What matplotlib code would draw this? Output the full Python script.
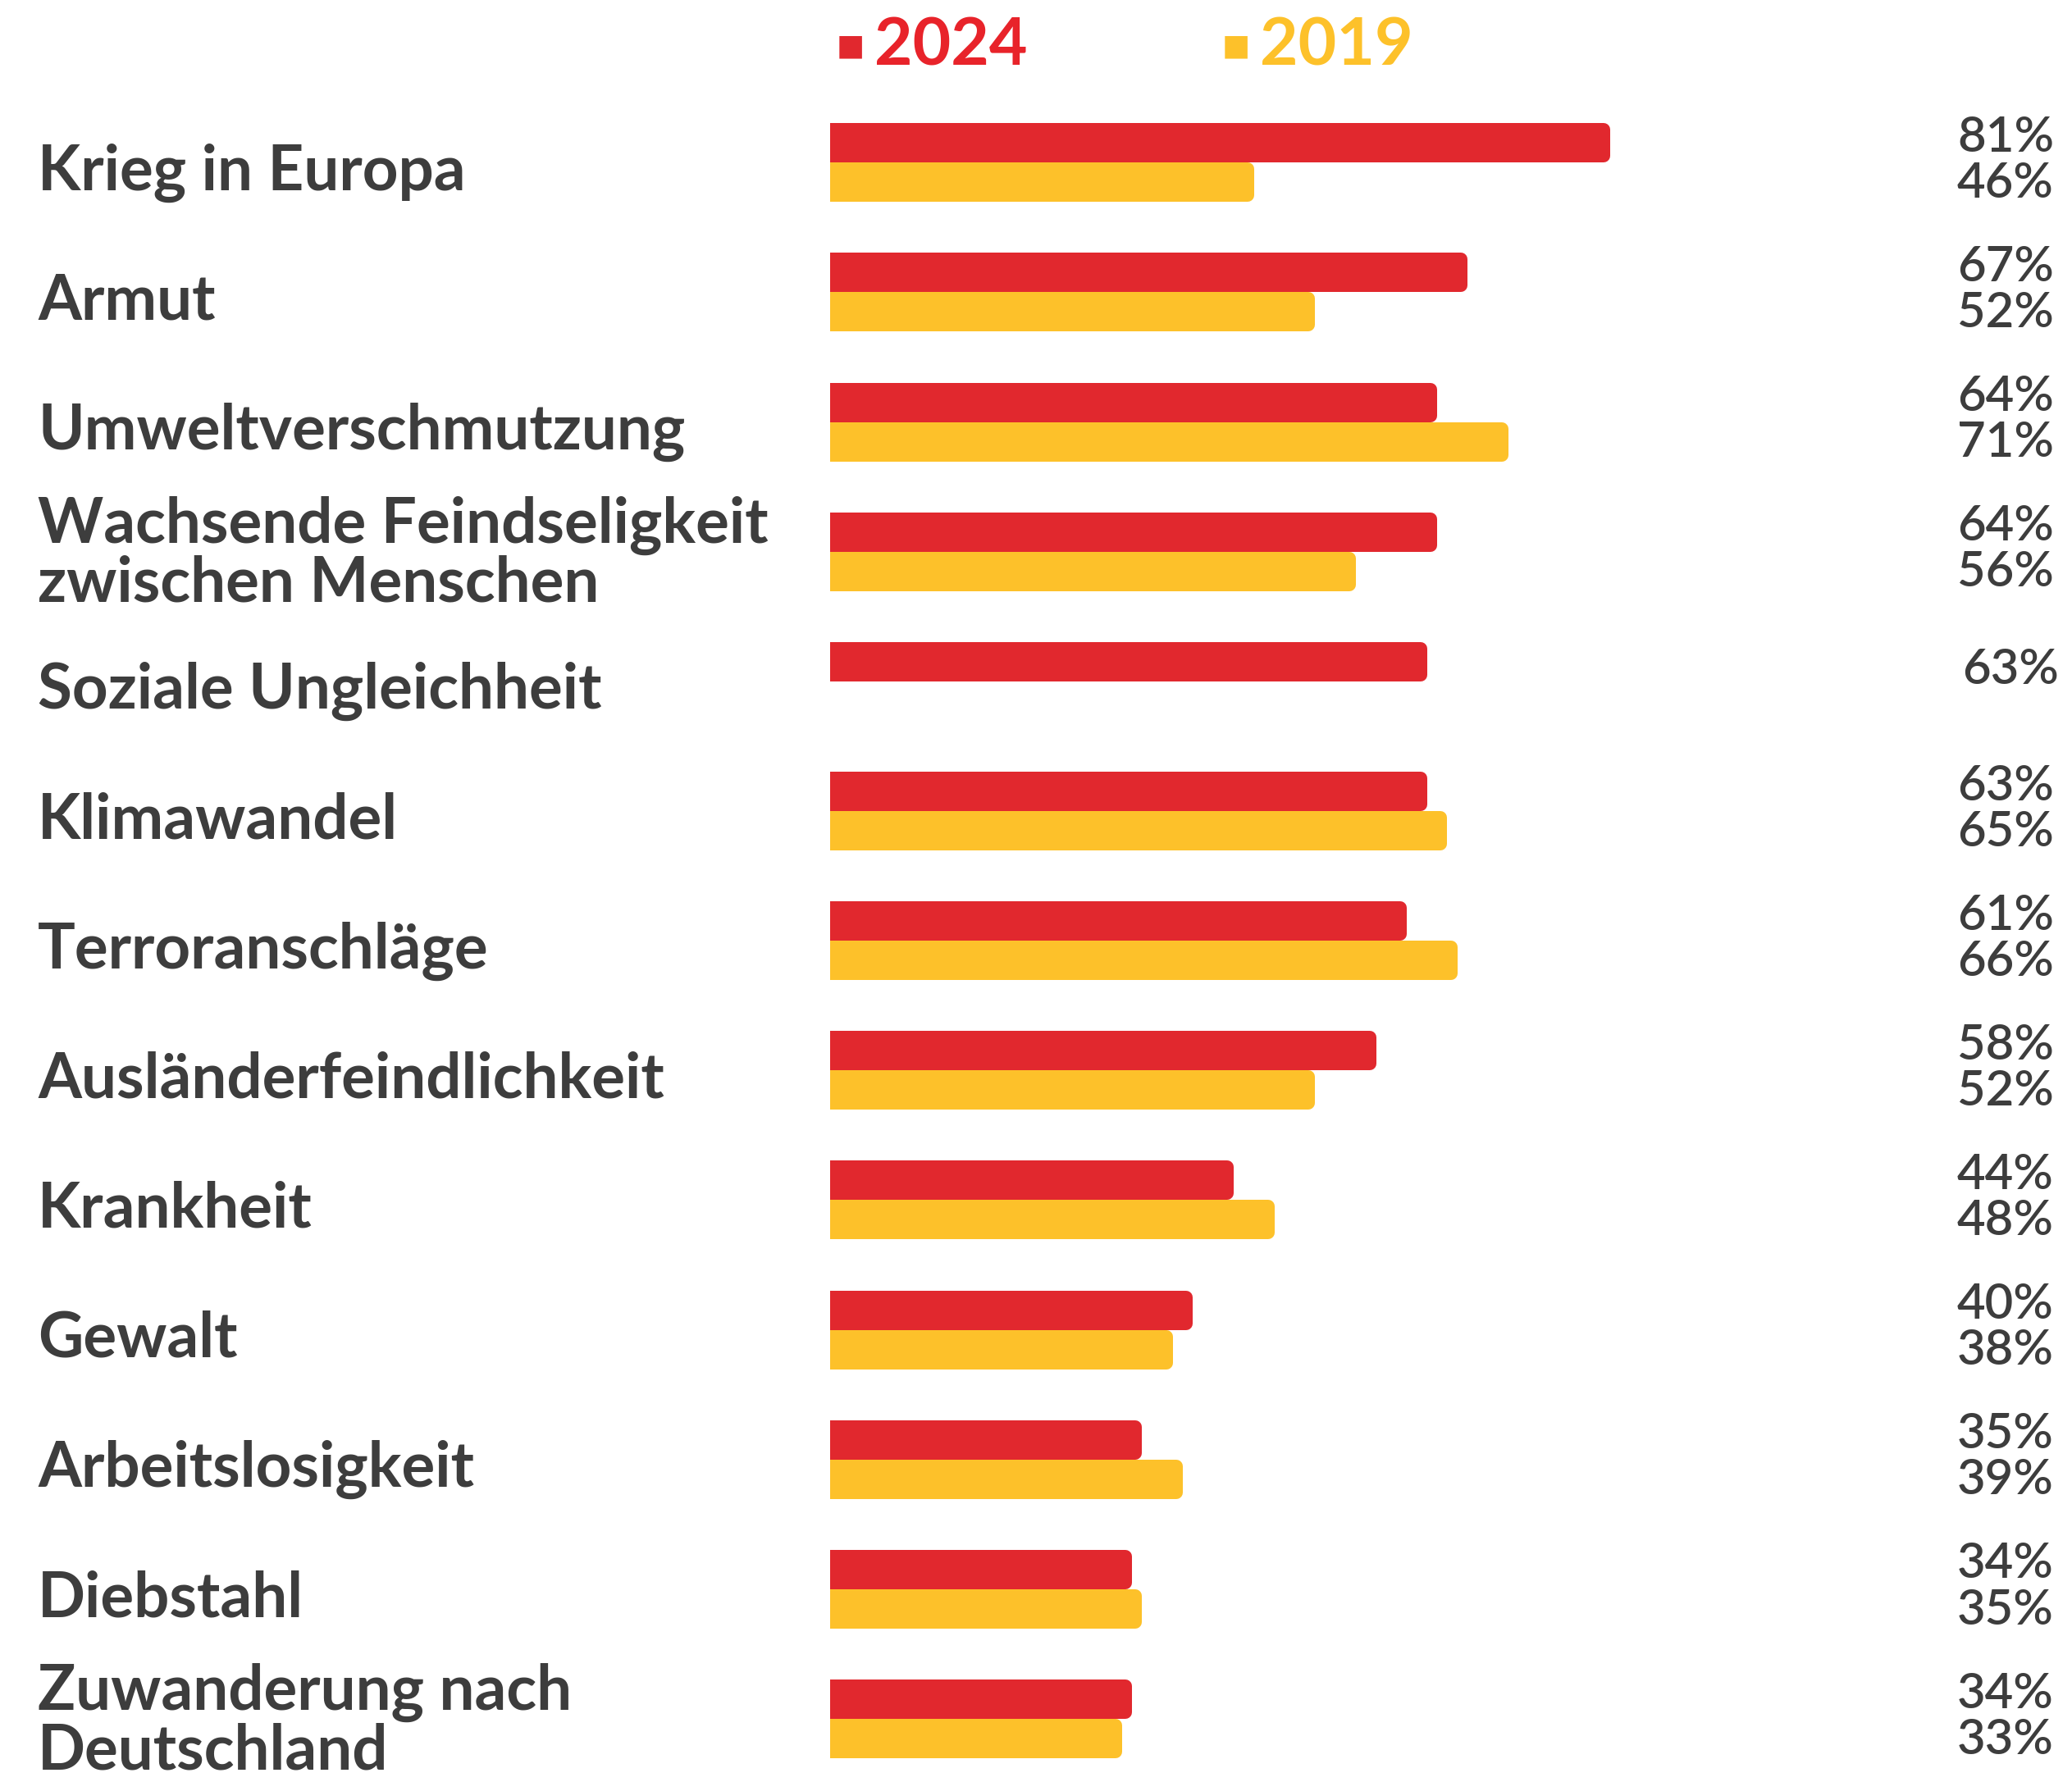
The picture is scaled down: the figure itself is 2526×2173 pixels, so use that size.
import matplotlib
matplotlib.use("Agg")
import numpy as np
from matplotlib import pyplot as plt

# Daten
kategorien = [
    "Krieg in Europa",
    "Armut",
    "Umweltverschmutzung",
    "Wachsende Feindseligkeit\nzwischen Menschen",
    "Soziale Ungleichheit",
    "Klimawandel",
    "Terroranschläge",
    "Ausländerfeindlichkeit",
    "Krankheit",
    "Gewalt",
    "Arbeitslosigkeit",
    "Diebstahl",
    "Zuwanderung nach\nDeutschland",
]
werte_2024 = [81, 67, 64, 64, 63, 63, 61, 58, 44, 40, 35, 34, 34]
werte_2019 = [46, 52, 71, 56, None, 65, 66, 52, 48, 38, 39, 35, 33]

ROT = "#e1282e"
GELB = "#fdc12a"
TEXT = "#3d3d3d"

W, H = 2526, 2173
fig = plt.figure(figsize=(W / 100, H / 100), dpi=100)
fig.patch.set_facecolor("white")

# Achse rechts, volle Hoehe
links_px = 1012
ax = fig.add_axes([links_px / W, 0, 1 - links_px / W, 1])
px_pro_prozent = 12.40
x0 = 4.96
ax.set_xlim(x0, x0 + (W - links_px) / px_pro_prozent)

pitch = 158.15
oben_px = 198.2
ax.set_ylim(12 + (H - (oben_px + 12 * pitch)) / pitch, -oben_px / pitch)
ax.axis("off")

y = np.arange(len(kategorien))
h_vis = 48 / pitch            # sichtbare Balkenhoehe
rand = 16                     # px, fuer runde Ecken
h_face = h_vis - rand / pitch
lw = rand * 72 / 100

v19 = np.array([np.nan if v is None else v for v in werte_2019], dtype=float)

ax.barh(y - h_vis / 2, werte_2024, height=h_face, color=ROT,
        edgecolor=ROT, linewidth=lw, joinstyle="round")
ax.barh(y + h_vis / 2, np.nan_to_num(v19), height=h_face, color=GELB,
        edgecolor=GELB, linewidth=lw, joinstyle="round")

trans = ax.get_yaxis_transform()
lab_x = (46 - links_px) / (W - links_px)
pct_x = (2386 - links_px) / (W - links_px)

for i, name in enumerate(kategorien):
    zeilen = name.count("\n") + 1
    if zeilen == 1:
        ax.text(lab_x, i + 0.21, name, transform=trans, ha="left",
                va="baseline", fontsize=55, fontweight="bold",
                family="Lato", color=TEXT, clip_on=False)
    else:
        ax.text(lab_x, i + 0.02, name, transform=trans, ha="left",
                va="center", fontsize=55, fontweight="bold",
                family="Lato", color=TEXT, clip_on=False,
                linespacing=1.0)

    if np.isnan(v19[i]):
        ax.text(pct_x + 0.004, i - h_vis / 2 + 0.17, f"{werte_2024[i]}%",
                transform=trans, ha="left", va="baseline", fontsize=43,
                family="Lato", fontweight="semibold", color=TEXT, clip_on=False)
    else:
        ax.text(pct_x, i - 0.085, f"{werte_2024[i]}%", transform=trans,
                ha="left", va="baseline", fontsize=43, family="Lato",
                fontweight="semibold", color=TEXT, clip_on=False)
        ax.text(pct_x, i + 0.27, f"{int(v19[i])}%", transform=trans,
                ha="left", va="baseline", fontsize=43, family="Lato",
                fontweight="semibold", color=TEXT, clip_on=False)

# Legende oben
ly = 1 - 56 / H
fig.text(1020 / W, ly, "■", fontsize=26, color=ROT, va="center", ha="left",
         family="DejaVu Sans")
fig.text(1066 / W, ly, "2024", fontsize=58, color="#e8232a", va="center",
         ha="left", family="Lato", fontweight="bold")
fig.text(1490 / W, ly, "■", fontsize=26, color=GELB, va="center", ha="left",
         family="DejaVu Sans")
fig.text(1536 / W, ly, "2019", fontsize=58, color=GELB, va="center",
         ha="left", family="Lato", fontweight="bold")

fig.savefig("out.png", dpi=100, facecolor="white")
